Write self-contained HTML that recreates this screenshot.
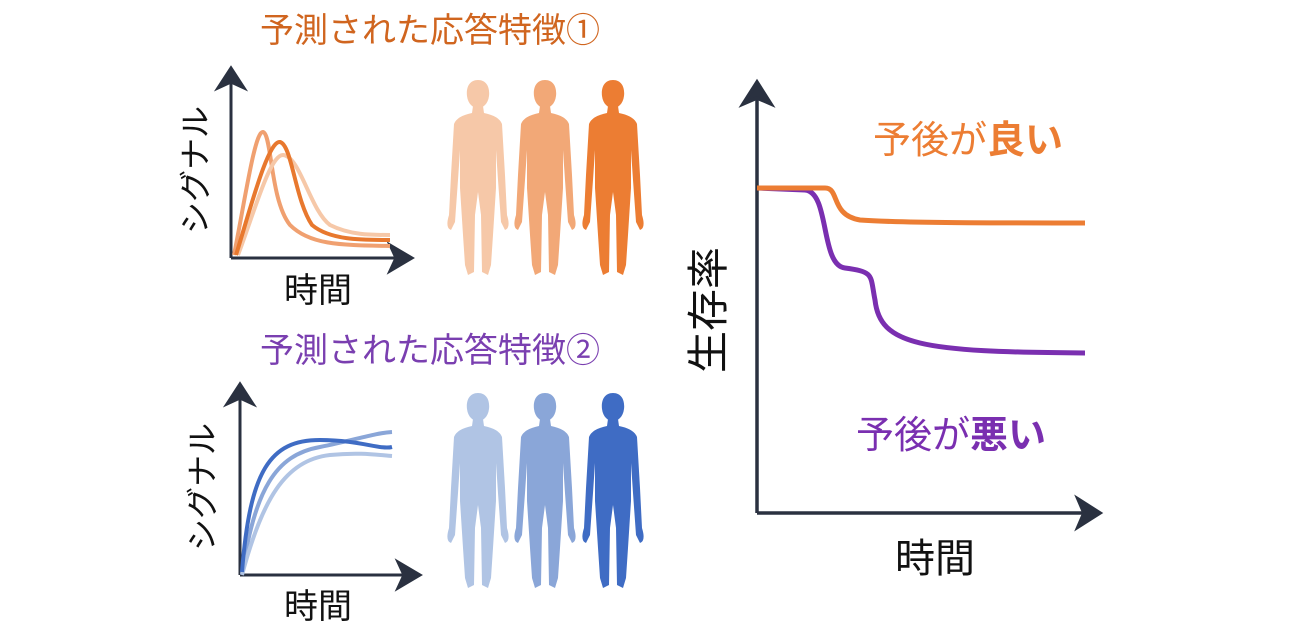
<!DOCTYPE html>
<html><head><meta charset="utf-8"><style>
body{margin:0;background:#fff;}
svg{display:block;}
text{font-family:"Liberation Sans","Noto Sans CJK JP",sans-serif;}
</style></head><body>
<svg width="1300" height="628" viewBox="0 0 1300 628">
<defs>
<path id="man" d="M30,26 L40,26 L41,33 Q56,36 59,44 L62,95 L64,135 Q68,148 62,150 L58,142 L55,100 L53,70 L53,108 L50,155 L48,185 L45,195 L39,192 L38,135 L35,112 L32,135 L31,192 L25,195 L22,185 L20,155 L17,108 L17,70 L15,100 L12,142 L8,150 Q2,148 6,135 L8,95 L11,44 Q14,36 29,33 Z M35,0 C44,0 47,8 46,16 C45,24 40,28 35,28 C30,28 25,24 24,16 C23,8 26,0 35,0 Z"/>
</defs>
<text x="430" y="42" font-size="34" fill="#d0651f" text-anchor="middle">予測された応答特徴①</text>
<text x="430" y="362" font-size="34" fill="#7a3fb0" text-anchor="middle">予測された応答特徴②</text>

<!-- top chart -->
<g stroke="#2a3140" stroke-width="3" fill="none">
<path d="M231,258 L231,72"/><path d="M218,88 L231,68 L244,88 L231,82Z" fill="#2a3140"/>
<path d="M231,258 L405,258"/><path d="M390,245 L412,258 L390,271 L396,258Z" fill="#2a3140"/>
</g>
<g fill="none" stroke-width="4">
<path d="M234,255 C245,200 255,130 263,132 C272,134 270,200 290,225 C310,245 340,245 390,246" stroke="#f0a070"/>
<path d="M238,255 C255,210 270,155 283,155 C300,156 310,210 330,225 C350,235 370,235 390,235" stroke="#f6c8a8"/>
<path d="M236,255 C250,210 268,140 280,142 C292,145 295,200 312,225 C330,240 360,240 390,240" stroke="#e8782e"/>
</g>
<text x="198" y="170" font-size="32" fill="#111" text-anchor="middle" transform="rotate(-90 198 170)" dominant-baseline="middle">シグナル</text>
<text x="318" y="302" font-size="34" fill="#111" text-anchor="middle">時間</text>
<use href="#man" x="443" y="80" fill="#f6c8a8"/>
<use href="#man" x="510" y="80" fill="#f2a877"/>
<use href="#man" x="578" y="80" fill="#ec7d33"/>

<!-- bottom chart -->
<g stroke="#2a3140" stroke-width="3" fill="none">
<path d="M240,575 L240,390"/><path d="M227,404 L240,384 L253,404 L240,398Z" fill="#2a3140"/>
<path d="M240,575 L413,575"/><path d="M398,562 L420,575 L398,588 L404,575Z" fill="#2a3140"/>
</g>
<g fill="none" stroke-width="4">
<path d="M242,574 C255,490 275,455 320,447 C355,440 375,433 392,432" stroke="#8aa6d8"/>
<path d="M242,575 C262,500 285,460 330,455 C360,452 378,455 392,456" stroke="#b0c4e4"/>
<path d="M242,572 C250,470 270,440 320,440 C360,440 380,450 392,447" stroke="#3f6cc4"/>
</g>
<text x="205" y="487" font-size="32" fill="#111" text-anchor="middle" transform="rotate(-90 205 487)" dominant-baseline="middle">シグナル</text>
<text x="318" y="618" font-size="34" fill="#111" text-anchor="middle">時間</text>
<use href="#man" x="443" y="393" fill="#b0c4e4"/>
<use href="#man" x="510" y="393" fill="#8aa6d8"/>
<use href="#man" x="578" y="393" fill="#3f6cc4"/>

<!-- right chart -->
<g stroke="#2a3140" stroke-width="3.5" fill="none">
<path d="M757,513 L757,90"/><path d="M743,104 L757,82 L771,104 L757,98Z" fill="#2a3140"/>
<path d="M757,513 L1090,513"/><path d="M1078,499 L1100,513 L1078,527 L1084,513Z" fill="#2a3140"/>
</g>
<path d="M757,188 L805,190 C830,192 820,265 845,268 C875,272 870,275 875,300 C880,345 920,352 1085,353" fill="none" stroke="#7a2fb0" stroke-width="5"/>
<path d="M757,188 L825,188 C840,188 830,215 860,220 C900,223 1000,223 1085,223" fill="none" stroke="#ec7d33" stroke-width="5"/>
<text x="712" y="310" font-size="42" fill="#111" text-anchor="middle" transform="rotate(-90 712 310)" dominant-baseline="middle">生存率</text>
<text x="935" y="572" font-size="40" fill="#111" text-anchor="middle">時間</text>
<text x="873" y="153" font-size="38" fill="#ec7d33">予後が<tspan font-weight="bold">良い</tspan></text>
<text x="856" y="448" font-size="38" fill="#7a2fb0">予後が<tspan font-weight="bold">悪い</tspan></text>
</svg>
</body></html>
